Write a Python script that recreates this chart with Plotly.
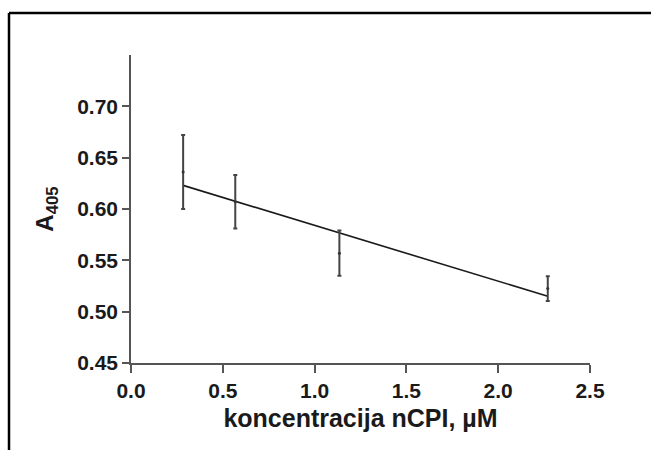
import plotly.graph_objects as go

# data
conc = [0.284, 0.568, 1.135, 2.27]
a405 = [0.636, 0.607, 0.557, 0.5225]
err = [0.036, 0.026, 0.022, 0.012]
fit_x = [0.284, 2.27]
fit_y = [0.623, 0.515]
x_ticks = [0.0, 0.5, 1.0, 1.5, 2.0, 2.5]
x_labels = ["0.0", "0.5", "1.0", "1.5", "2.0", "2.5"]
y_ticks = [0.45, 0.50, 0.55, 0.60, 0.65, 0.70]
y_labels = ["0.45", "0.50", "0.55", "0.60", "0.65", "0.70"]

W, H = 651, 450
L, R, T, B = 131, 61, 55, 87

fig = go.Figure()
fig.add_trace(go.Scatter(
    x=fit_x, y=fit_y, mode="lines",
    line=dict(color="#1a1a1a", width=1.6), showlegend=False, hoverinfo="skip"))
fig.add_trace(go.Scatter(
    x=conc, y=a405, mode="markers",
    marker=dict(color="#333333", size=3),
    error_y=dict(type="data", array=err, visible=True, color="#444444",
                 thickness=2, width=2),
    showlegend=False))

font = "Liberation Sans, Arial, sans-serif"
pw = W - L - R
ph = H - T - B

def px_to_paper_x(px):
    return (px - L) / pw

def px_to_paper_y(py):
    return (H - B - py) / ph

fig.update_layout(
    width=W, height=H,
    margin=dict(l=L, r=R, t=T, b=B, pad=0),
    paper_bgcolor="white", plot_bgcolor="white",
    font=dict(family=font, color="#1a1a1a"),
    xaxis=dict(
        range=[0, 2.5], tickvals=x_ticks, ticktext=x_labels,
        showgrid=False, zeroline=False, showline=True,
        linecolor="#555555", linewidth=1.6,
        ticks="outside", ticklen=8, tickwidth=1.6, tickcolor="#555555",
        tickfont=dict(family=font, size=21, color="#1a1a1a", weight="bold"),
        title=dict(text="<b>koncentracija nCPI, µM</b>", standoff=8,
                   font=dict(family=font, size=25, color="#1a1a1a")),
    ),
    yaxis=dict(
        range=[0.45, 0.75], tickvals=y_ticks, ticktext=y_labels,
        showgrid=False, zeroline=False, showline=True,
        linecolor="#555555", linewidth=1.6,
        ticks="outside", ticklen=7, tickwidth=1.6, tickcolor="#555555",
        tickfont=dict(family=font, size=21, color="#1a1a1a", weight="bold"),
        title=dict(text="<b>A<sub>405</sub></b>", standoff=17,
                   font=dict(family=font, size=24, color="#1a1a1a")),
    ),
    shapes=[
        dict(type="line", xref="paper", yref="paper",
             x0=px_to_paper_x(9), x1=px_to_paper_x(9),
             y0=px_to_paper_y(13), y1=px_to_paper_y(452),
             line=dict(color="black", width=2.5)),
        dict(type="line", xref="paper", yref="paper",
             x0=px_to_paper_x(9), x1=px_to_paper_x(653),
             y0=px_to_paper_y(13), y1=px_to_paper_y(13),
             line=dict(color="black", width=2.5)),
    ],
)

fig.write_html("out.html")
